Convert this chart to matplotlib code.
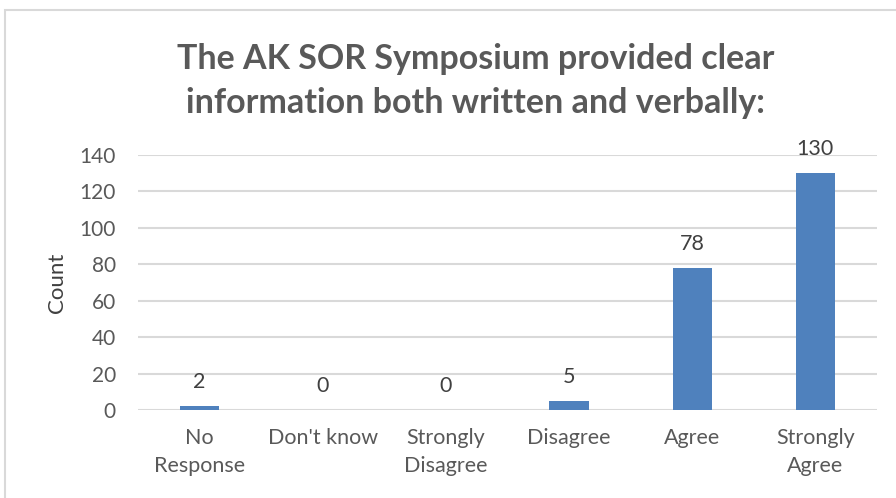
import matplotlib.pyplot as plt
from matplotlib.patches import Rectangle

categories = ['No\nResponse', "Don't know", 'Strongly\nDisagree', 'Disagree', 'Agree', 'Strongly\nAgree']
counts = [2, 0, 0, 5, 78, 130]
yticks = [0, 20, 40, 60, 80, 100, 120, 140]

plt.rcParams['font.family'] = ['Lato', 'DejaVu Sans']

fig = plt.figure(figsize=(8.96, 4.98), dpi=100)
# chart border (left and top edges visible)
fig.patches.append(Rectangle((5 / 896, -0.1), 1.2, 1 - 10 / 498 + 0.1, transform=fig.transFigure,
                             fill=False, edgecolor='#d9d9d9', linewidth=1.5))

ax = fig.add_axes([138 / 896, 1 - 410 / 498, 739 / 896, 255 / 498])
x = range(len(categories))
ax.bar(x, counts, width=0.32, color='#4f81bd', zorder=3)
for xi, v in zip(x, counts):
    ax.annotate(str(v), (xi, v), xytext=(0, 10), textcoords='offset points',
                ha='center', va='bottom', fontsize=15.5, color='#404040')

ax.set_ylim(0, 140)
ax.set_xlim(-0.5, len(categories) - 0.5)
ax.set_yticks(yticks)
ax.set_xticks(list(x))
ax.set_xticklabels(categories, fontsize=15.5, color='#595959', linespacing=1.5)
ax.tick_params(axis='y', labelsize=15, labelcolor='#595959', length=0, pad=16)
ax.tick_params(axis='x', length=0, pad=13)
ax.grid(axis='y', color='#d9d9d9', linewidth=1.5, zorder=0)
for s in ax.spines.values():
    s.set_visible(False)
ax.set_ylabel('Count', fontsize=16, color='#404040', labelpad=9)

fig.text(0.531, 1 - 119 / 498, 'The AK SOR Symposium provided clear\ninformation both written and verbally:',
         ha='center', va='bottom', fontsize=24.5, fontweight='bold', color='#595959', linespacing=1.45)

fig.savefig('out.png', dpi=100)
